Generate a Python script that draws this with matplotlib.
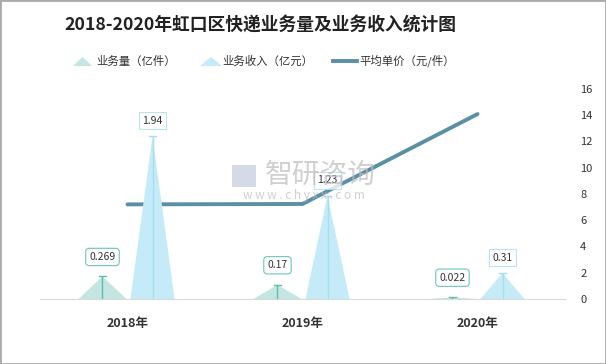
import numpy as np
import matplotlib
matplotlib.use("Agg")
from matplotlib import pyplot as plt
from matplotlib.patches import Polygon, Rectangle
from matplotlib.lines import Line2D

plt.rcParams['font.family'] = ['Noto Sans CJK SC', 'DejaVu Sans']

years = ["2018年", "2019年", "2020年"]
volume = [0.269, 0.17, 0.022]      # 业务量（亿件）
revenue = [1.94, 1.23, 0.31]       # 业务收入（亿元）
unit_price = [7.21, 7.24, 14.09]   # 平均单价（元/件）

c_vol = "#c4e6e2"
c_vol_line = "#5cbfb0"
c_rev = "#c6ebf8"
c_rev_line = "#a6dcf0"
c_price = "#5b8fa6"

fig = plt.figure(figsize=(6.06, 3.64), dpi=100)
ax = fig.add_axes([40 / 606, 1 - 299 / 364, 525 / 606, 210 / 364])
ax2 = ax.twinx()

x = np.arange(len(years))
off = 0.143


def triangle(ax, xc, h, hw, color, lcolor):
    ax.add_patch(Polygon([[xc - hw, 0], [xc, h], [xc + hw, 0]], closed=True,
                         facecolor=color, edgecolor="none", zorder=2))
    ax.vlines(xc, 0, h, color=lcolor, lw=1, zorder=3)
    ax.plot([xc - 0.018, xc + 0.018], [h, h], color=lcolor, lw=1, zorder=3)


for i in range(len(years)):
    triangle(ax, x[i] - off, volume[i], 0.137, c_vol, c_vol_line)
    triangle(ax, x[i] + off, revenue[i], 0.126, c_rev, c_rev_line)

ax.set_xlim(-0.5, 2.5)
ax.set_ylim(0, 2.5)
ax.set_yticks([])
ax.set_xticks(x)
ax.set_xticklabels(years, fontsize=9, fontweight="bold", color="#333333")
ax.tick_params(axis="x", length=0, pad=13)
for s in ["top", "left", "right"]:
    ax.spines[s].set_visible(False)
ax.spines["bottom"].set_color("#d9d9d9")

ax2.plot(x, unit_price, color=c_price, lw=2.8, zorder=4, solid_capstyle="round")
ax2.set_ylim(0, 16)
ax2.set_yticks(np.arange(0, 17, 2))
ax2.tick_params(axis="y", length=0, pad=11, labelsize=8, labelcolor="#333333")
for s in ax2.spines.values():
    s.set_visible(False)

# value labels
for i in range(len(years)):
    ax.annotate(str(volume[i]), (x[i] - off, volume[i]), xytext=(0, 14),
                textcoords="offset points", ha="center", va="center",
                fontsize=7.5, color="#333333", zorder=6, annotation_clip=False,
                bbox=dict(boxstyle="round,pad=0.35", fc="white", ec=c_vol_line, lw=0.8, alpha=0.9))
    ax.annotate(str(revenue[i]), (x[i] + off, revenue[i]), xytext=(0, 11),
                textcoords="offset points", ha="center", va="center",
                fontsize=7.5, color="#333333", zorder=6, annotation_clip=False,
                bbox=dict(boxstyle="square,pad=0.35", fc="white", ec=c_rev_line, lw=0.8, alpha=0.8))
ax.set_zorder(ax2.get_zorder() + 1)
ax.patch.set_visible(False)

# watermark
fig.add_artist(Rectangle((232 / 606, 1 - 187 / 364), 24 / 606, 22 / 364,
                         facecolor="#b8c4d8", edgecolor="none", alpha=0.6))
fig.text(320 / 606, 1 - 175 / 364, "智研咨询", fontsize=20, color="#bcbcbc",
         ha="center", va="center", alpha=0.7)
fig.text(304 / 606, 1 - 196 / 364, "w w w . c h y x x . c o m", fontsize=8.5,
         color="#bcbcbc", ha="center", va="center", alpha=0.7)

# title
fig.text(260 / 606, 1 - 25 / 364, "2018-2020年虹口区快递业务量及业务收入统计图",
         fontsize=12.8, fontweight="bold", color="#222222", ha="center", va="center")

# legend
ly = 1 - 61 / 364
for (x0, x1, col) in [(73, 92, c_vol), (200, 222, c_rev)]:
    fig.add_artist(Polygon([[x0 / 606, ly - 5 / 364], [(x0 + x1) / 2 / 606, ly + 4 / 364],
                            [x1 / 606, ly - 5 / 364]], closed=True,
                           facecolor=col, edgecolor="none"))
fig.add_artist(Line2D([333 / 606, 357 / 606], [ly, ly], color=c_price, lw=2.8))
for tx, t in [(96, "业务量（亿件）"), (222, "业务收入（亿元）"), (359, "平均单价（元/件）")]:
    fig.text(tx / 606, ly, t, fontsize=8.2, color="#333333", ha="left", va="center")

# frame
fig.add_artist(Rectangle((0, 0), 1, 1, transform=fig.transFigure, fill=False,
                         edgecolor="#aaaaaa", lw=2))

fig.savefig("out.png", dpi=100)
